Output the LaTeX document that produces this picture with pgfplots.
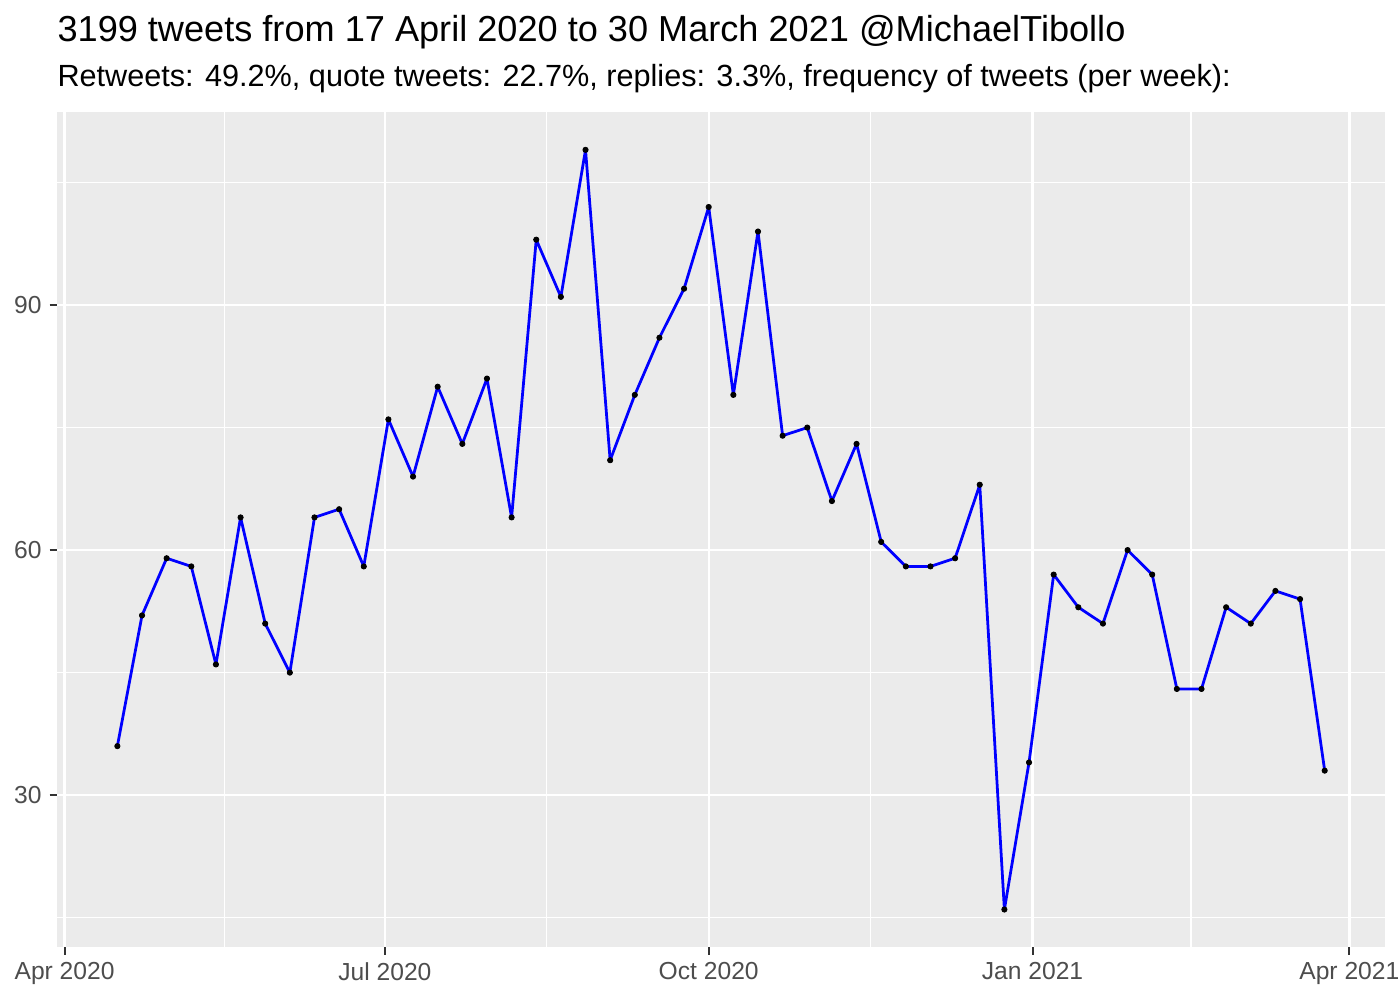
\documentclass[border=0pt]{standalone}
\usepackage{pgfplots}
\pgfplotsset{compat=1.18}
\usepackage{fontspec}
\setmainfont{Liberation Sans}
\definecolor{panelbg}{HTML}{EBEBEB}
\definecolor{ticklab}{HTML}{4D4D4D}
\definecolor{tickcol}{HTML}{333333}
\begin{document}
\begin{tikzpicture}
\path[use as bounding box] (0,0) rectangle (505.9pt,361.35pt);
\begin{axis}[
  at={(20.6pt,18.97pt)}, anchor=south west,
  scale only axis, width=479.9pt, height=301.96pt,
  xmin=-2.15, xmax=375.15, ymin=11.35, ymax=113.65,
  axis background/.style={fill=panelbg},
  axis line style={draw=none},
  xtick={0,91,183,275,365},
  xticklabels={Apr 2020,Jul 2020,Oct 2020,Jan 2021,Apr 2021},
  ytick={30,60,90}, yticklabels={30,60,90},
  minor xtick={45.5,137,229,320},
  minor ytick={15,45,75,105},
  xtick pos=bottom, ytick pos=left,
  tick align=outside,
  major tick length=2.7pt, minor tick length=0pt,
  tick style={tickcol, line width=0.75pt},
  grid=both,
  major grid style={white, line width=0.85pt},
  minor grid style={white, line width=0.45pt},
  ticklabel style={font=\fontsize{8.9}{10}\selectfont, text=ticklab},
  xticklabel style={inner sep=0pt, anchor=north, yshift=-2.6pt},
  yticklabel style={inner sep=0pt, anchor=east, xshift=-2.7pt},
  clip=false,
]
\addplot[blue, line width=1pt, line join=round, line cap=round, mark=*, mark size=0.95pt,
  mark options={fill=black, draw=black, line width=0.3pt}] table {
x y
15 36
22 52
29 59
36 58
43 46
50 64
57 51
64 45
71 64
78 65
85 58
92 76
99 69
106 80
113 73
120 81
127 64
134 98
141 91
148 109
155 71
162 79
169 86
176 92
183 102
190 79
197 99
204 74
211 75
218 66
225 73
232 61
239 58
246 58
253 59
260 68
267 16
274 34
281 57
288 53
295 51
302 60
309 57
316 43
323 43
330 53
337 51
344 55
351 54
358 33
};
\end{axis}
\node[anchor=base west, inner sep=0pt, font=\fontsize{13.06}{15}\selectfont] at (20.6pt,346.3pt) {3199 tweets from 17 April 2020 to 30 March 2021 @MichaelTibollo};
\node[anchor=base west, inner sep=0pt, font=\fontsize{11.07}{13}\selectfont] at (20.6pt,330.0pt) {Retweets: 49.2\%, quote tweets: 22.7\%, replies: 3.3\%, frequency of tweets (per week):};
\end{tikzpicture}
\end{document}
